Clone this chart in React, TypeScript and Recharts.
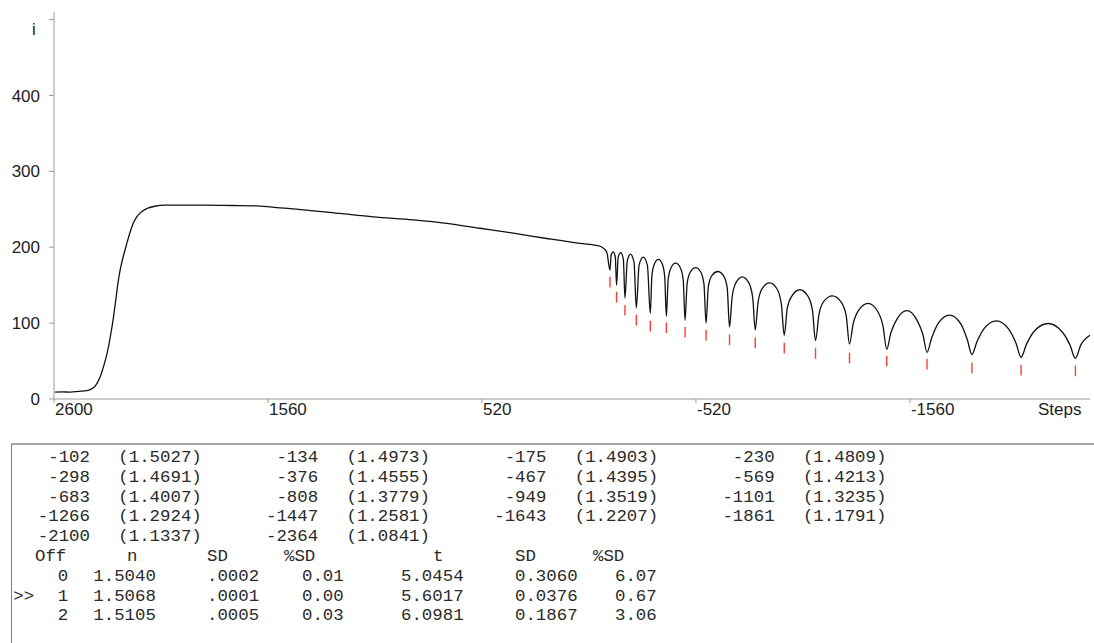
import { LineChart, Line, XAxis, YAxis, ReferenceLine } from 'recharts'

// intensity trace as [step, i]
const riseCurve: [number, number][] = [
  [2595, 9], [2560, 9.5], [2520, 9], [2480, 10], [2440, 11], [2420, 13], [2400, 17],
  [2376, 29], [2360, 42], [2342, 60], [2325, 84], [2313, 104], [2300, 130], [2289, 153],
  [2277, 172], [2265, 186], [2245, 206], [2230, 220], [2216, 231], [2200, 239],
  [2182, 245], [2149, 251], [2110, 254], [2060, 255.5],
]

const driftCurve: [number, number][] = [
  [1980, 255.5], [1858, 255.5], [1740, 255], [1615, 254.5], [1502, 252], [1372, 249],
  [1210, 244.5], [1048, 240], [854, 236], [692, 231.5], [530, 225], [368, 218.5],
  [206, 211.5], [44, 205], [-45, 202], [-86, 194],
]

const fringeCurve: [number, number][] = [
  [-102, 170], [-108, 190], [-118, 194], [-128, 187],
  [-134, 150], [-142, 187], [-155, 193], [-167, 184],
  [-175, 133], [-186, 182], [-202, 191], [-219, 180],
  [-230, 120], [-244, 177], [-264, 187], [-284, 176],
  [-298, 113], [-306, 163], [-318, 178], [-337, 184], [-356, 178], [-368, 162],
  [-376, 109], [-385, 158], [-399, 173], [-421, 179], [-444, 173], [-458, 157],
  [-467, 104], [-477, 152], [-492, 167], [-518, 173], [-544, 167], [-559, 151],
  [-569, 100], [-580, 148], [-598, 163], [-626, 168], [-655, 162], [-672, 146],
  [-683, 95], [-696, 135], [-714, 153], [-745, 161], [-777, 153], [-796, 133],
  [-808, 91], [-822, 128], [-843, 146], [-878, 153], [-914, 145], [-935, 125],
  [-949, 84], [-964, 120], [-987, 136], [-1025, 144], [-1063, 136], [-1086, 117],
  [-1101, 77], [-1118, 112], [-1142, 129], [-1183, 136], [-1225, 128], [-1250, 110],
  [-1266, 72.5], [-1284, 99], [-1311, 117], [-1356, 126], [-1402, 116], [-1429, 96],
  [-1447, 65.5], [-1467, 87], [-1496, 105], [-1545, 116.5], [-1594, 104], [-1623, 85],
  [-1643, 61.5], [-1665, 80], [-1698, 100], [-1752, 110.5], [-1807, 99], [-1839, 78],
  [-1861, 58.5], [-1885, 75], [-1921, 93], [-1980, 103], [-2040, 92], [-2076, 73],
  [-2100, 55], [-2126, 72], [-2166, 90], [-2232, 99.5], [-2298, 89], [-2338, 71],
  [-2364, 53.5], [-2390, 71], [-2435, 84],
]

// fringe minima and their fitted indices
const fringeSteps = [
  -102, -134, -175, -230, -298, -376, -467, -569, -683,
  -808, -949, -1101, -1266, -1447, -1643, -1861, -2100, -2364,
]
const fringeIndex = [
  '1.5027', '1.4973', '1.4903', '1.4809', '1.4691', '1.4555', '1.4395', '1.4213', '1.4007',
  '1.3779', '1.3519', '1.3235', '1.2924', '1.2581', '1.2207', '1.1791', '1.1337', '1.0841',
]
// top of each red marker (i units)
const markTops = [161, 141, 124, 111, 103, 101, 95, 91, 85, 81, 74, 67, 61, 57, 53, 48, 45, 44]
const MARK_LEN = 14

const xTicks = [2600, 1560, 520, -520, -1560]
const yTicks = [0, 100, 200, 300, 400, 500]

// fit summary
const fitOffsets = ['0', '1', '2']
const fitN = ['1.5040', '1.5068', '1.5105']
const fitSD = ['.0002', '.0001', '.0005']
const fitPctSD = ['0.01', '0.00', '0.03']
const fitT = ['5.0454', '5.6017', '6.0981']
const fitTSD = ['0.3060', '0.0376', '0.1867']
const fitTPct = ['6.07', '0.67', '3.06']
const selectedRow = 1

const data = [...riseCurve, ...driftCurve, ...fringeCurve].map(([step, i]) => ({ step, i }))

const SANS = '"Liberation Sans", Arial, sans-serif'
const MONO = '"Liberation Mono", "Courier New", monospace'

function XTick(props: any) {
  const { x, y, payload } = props
  return (
    <text x={x + 1} y={y} dy="0.71em" textAnchor="start" fontSize={17} fill="#1e1e1e" fontFamily={SANS}>
      {payload.value}
    </text>
  )
}

function FringeTable() {
  const rowY = (r: number) => 462 + r * 19.8
  const colW = 228.2
  return (
    <svg width={1094} height={643} style={{ position: 'absolute', left: 0, top: 0 }}>
      <line x1={11} y1={444} x2={1094} y2={444} stroke="#a4a4a4" strokeWidth={2} />
      <line x1={11.5} y1={444} x2={11.5} y2={643} stroke="#808080" strokeWidth={1} />
      <g fontFamily={MONO} fontSize={17.4} fill="#2a2a2a">
        {fringeSteps.map((s, k) => {
          const r = Math.floor(k / 4)
          const c = k % 4
          return (
            <g key={s}>
              <text x={90 + c * colW} y={rowY(r)} textAnchor="end">{String(s)}</text>
              <text x={118.3 + c * colW} y={rowY(r)}>({fringeIndex[k]})</text>
            </g>
          )
        })}
        <text x={35} y={rowY(5)}>Off</text>
        <text x={127} y={rowY(5)}>n</text>
        <text x={207} y={rowY(5)}>SD</text>
        <text x={284} y={rowY(5)}>%SD</text>
        <text x={433} y={rowY(5)}>t</text>
        <text x={515} y={rowY(5)}>SD</text>
        <text x={593} y={rowY(5)}>%SD</text>
        {fitOffsets.map((o, k) => (
          <g key={o}>
            {k === selectedRow && <text x={13.3} y={rowY(6 + k)}>&gt;&gt;</text>}
            <text x={68.3} y={rowY(6 + k)} textAnchor="end">{o}</text>
            <text x={93.3} y={rowY(6 + k)}>{fitN[k]}</text>
            <text x={207} y={rowY(6 + k)}>{fitSD[k]}</text>
            <text x={302} y={rowY(6 + k)}>{fitPctSD[k]}</text>
            <text x={401} y={rowY(6 + k)}>{fitT[k]}</text>
            <text x={515} y={rowY(6 + k)}>{fitTSD[k]}</text>
            <text x={615} y={rowY(6 + k)}>{fitTPct[k]}</text>
          </g>
        ))}
      </g>
    </svg>
  )
}

export default function App() {
  return (
    <div style={{ position: 'absolute', left: 0, top: 0, width: 1094, height: 643, background: '#fff', overflow: 'hidden' }}>
      <LineChart width={1094} height={430} data={data} margin={{ top: 12, right: 4, left: 0, bottom: 0 }}>
        <XAxis
          dataKey="step"
          type="number"
          domain={[-2435, 2600]}
          reversed
          allowDataOverflow
          ticks={xTicks}
          tickSize={4}
          tickMargin={0}
          height={31}
          stroke="#9a9a9a"
          tick={<XTick />}
        />
        <YAxis
          type="number"
          domain={[0, 510]}
          ticks={yTicks}
          allowDataOverflow
          width={54}
          tickSize={5}
          tickMargin={9}
          stroke="#9a9a9a"
          tickFormatter={(v: number) => (v === 500 ? '' : String(v))}
          tick={{ fontSize: 17, fill: '#1e1e1e', fontFamily: SANS }}
        />
        {fringeSteps.map((s, k) => (
          <ReferenceLine
            key={s}
            segment={[{ x: s, y: markTops[k] }, { x: s, y: markTops[k] - MARK_LEN }]}
            stroke="#ff3b3b"
            strokeWidth={1.4}
          />
        ))}
        <Line
          dataKey="i"
          type="monotone"
          stroke="#111"
          strokeWidth={1.3}
          dot={false}
          isAnimationActive={false}
        />
      </LineChart>
      <div style={{ position: 'absolute', left: 32, top: 21, fontFamily: SANS, fontSize: 17, lineHeight: '17px', color: '#1e1e1e' }}>i</div>
      <div style={{ position: 'absolute', left: 1038, top: 401, fontFamily: SANS, fontSize: 17, lineHeight: '17px', color: '#1e1e1e' }}>Steps</div>
      <FringeTable />
    </div>
  )
}
